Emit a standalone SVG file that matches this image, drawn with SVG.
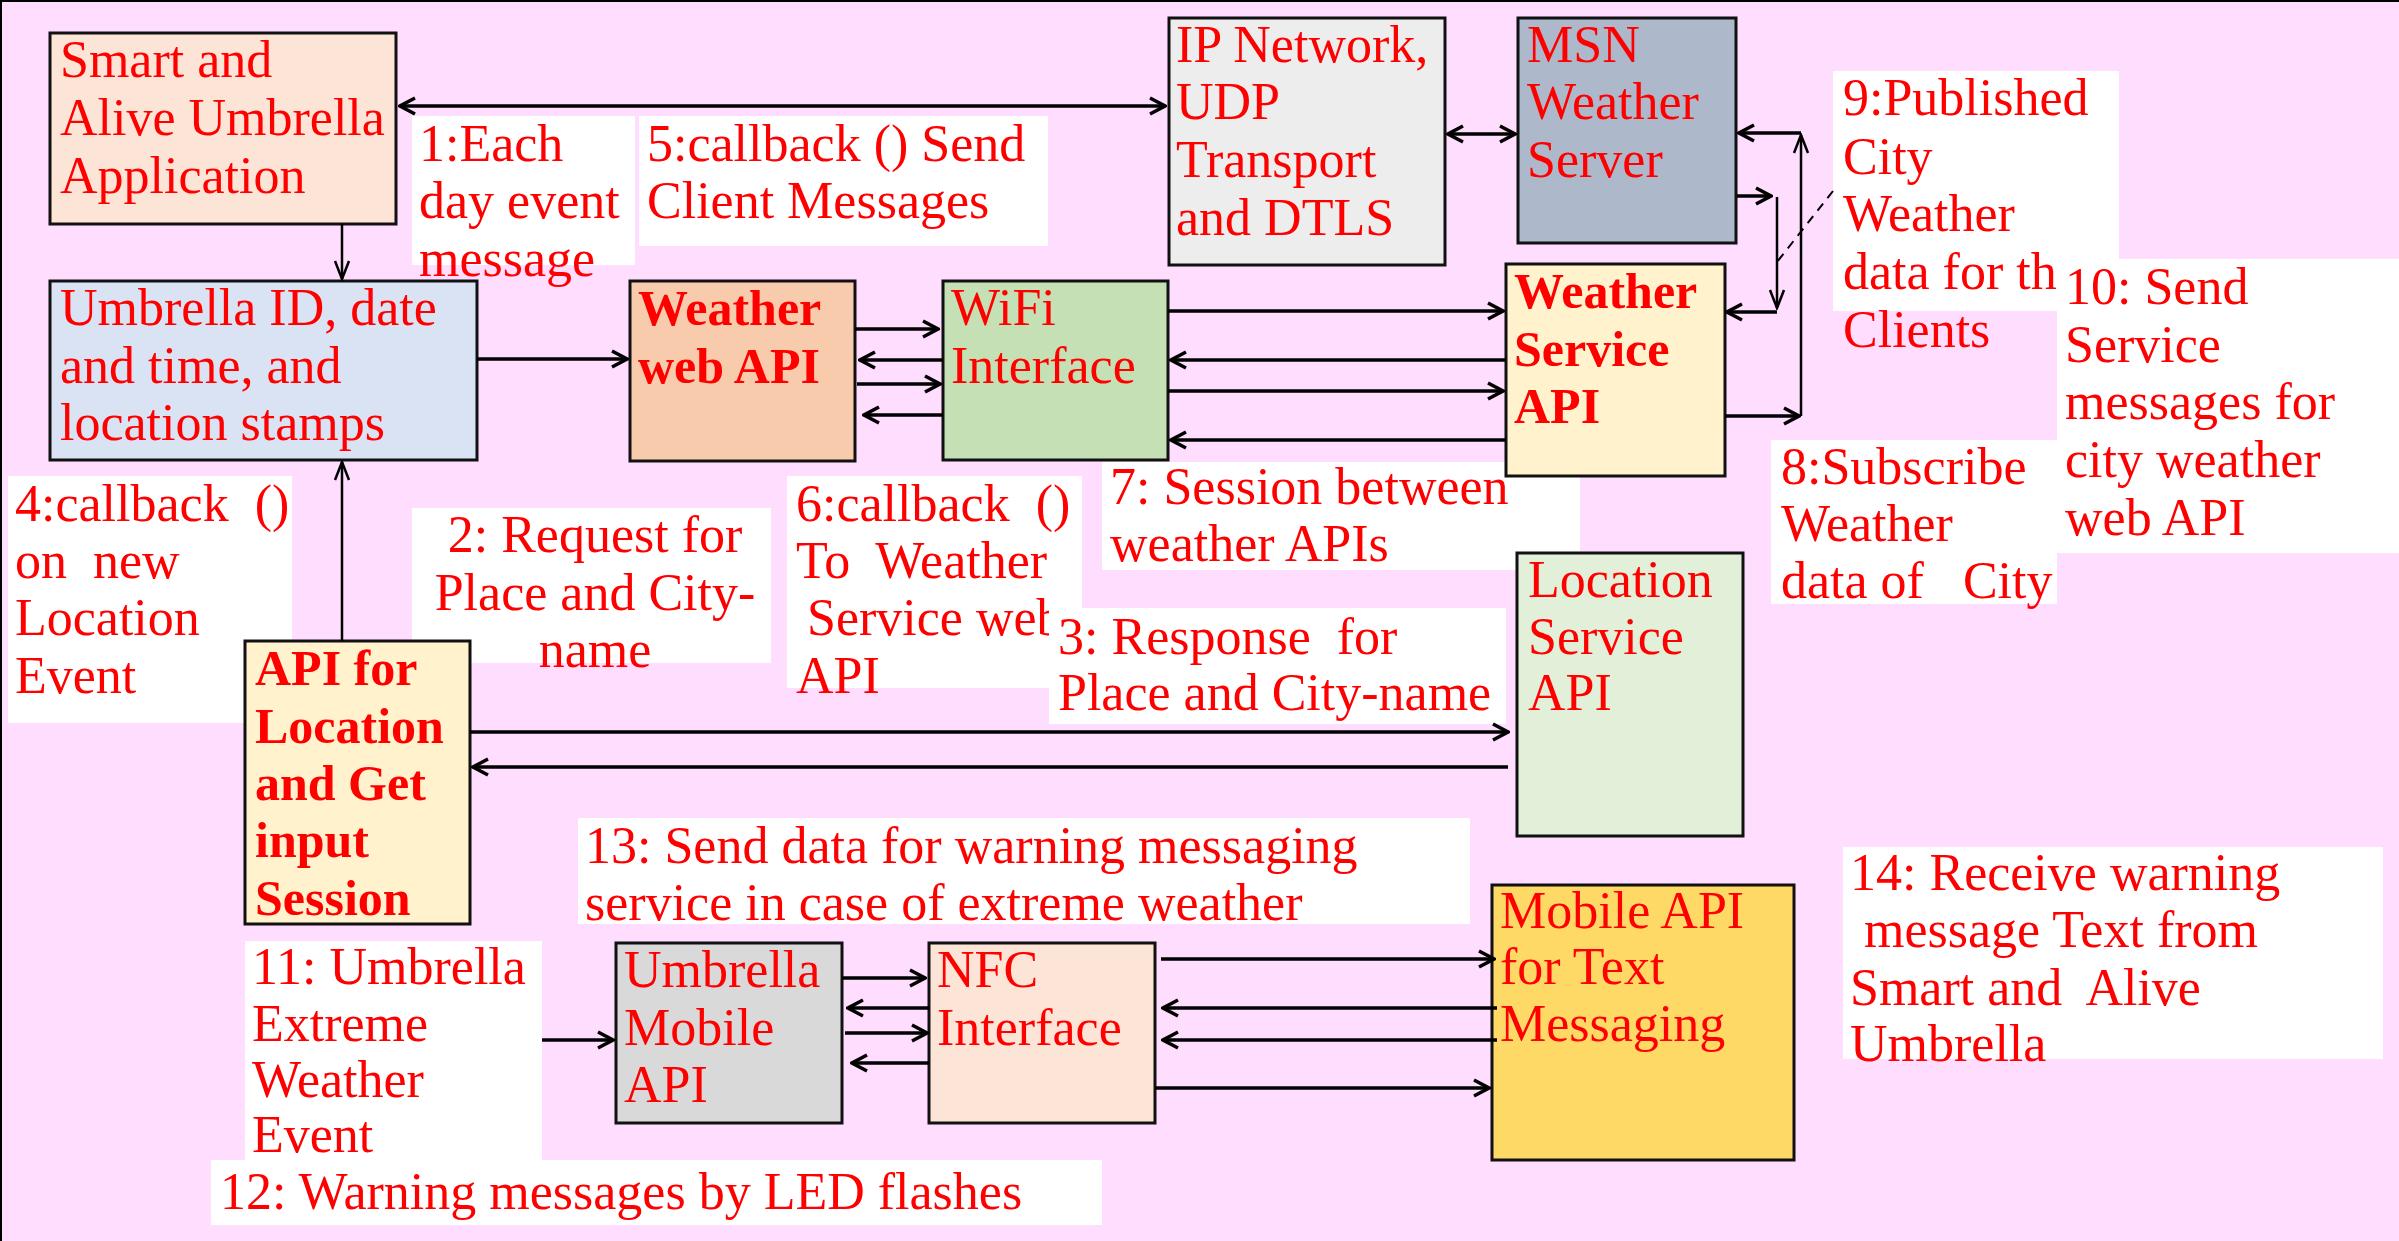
<svg xmlns="http://www.w3.org/2000/svg" width="2399" height="1241" viewBox="0 0 2399 1241">
<style>
text{font-family:"Liberation Serif","Times New Roman",serif;fill:#FF0000;font-size:52px}
.b{font-weight:bold;font-size:50px}
.box{stroke:#111;stroke-width:3}
.lbl{fill:#FFFFFF;stroke:none}
.c{stroke:#000;stroke-width:3.5;fill:none}
.t{stroke:#000;stroke-width:2.5;fill:none}
.d{stroke:#000;stroke-width:2;fill:none;stroke-dasharray:9 7}
</style>
<defs>
<marker id="ah" viewBox="-18 -10 20 20" markerWidth="20" markerHeight="20" refX="0" refY="0" orient="auto-start-reverse" markerUnits="userSpaceOnUse">
<path d="M-15,-8 L0,0 L-15,8" fill="none" stroke="#000" stroke-width="3.5" stroke-linejoin="miter"/>
</marker>
<marker id="tn" viewBox="-20 -10 22 20" markerWidth="22" markerHeight="20" refX="0" refY="0" orient="auto-start-reverse" markerUnits="userSpaceOnUse">
<path d="M-18,-7 L0,0 L-18,7" fill="none" stroke="#000" stroke-width="2.5"/>
</marker>
</defs>
<rect x="0" y="0" width="2399" height="1241" fill="#FFDDFF"/>
<line x1="0" y1="1" x2="2399" y2="1" stroke="#000" stroke-width="2"/>
<line x1="1" y1="0" x2="1" y2="1241" stroke="#000" stroke-width="2"/>

<g id="labels">
<g id="label-1">
<rect class="lbl" x="412" y="116" width="223" height="149"/>
<text x="419" y="161">1:Each</text>
<text x="419" y="218">day event</text>
<text x="419" y="276">message</text>
</g>
<g id="label-5">
<rect class="lbl" x="639" y="116" width="409" height="130"/>
<text x="647" y="161">5:callback () Send</text>
<text x="647" y="218">Client Messages</text>
</g>
<g id="label-9">
<rect class="lbl" x="1833" y="71" width="286" height="240"/>
<text x="1843" y="115">9:Published</text>
<text x="1843" y="174">City</text>
<text x="1843" y="231">Weather</text>
<text x="1843" y="289">data for th</text>
<text x="1843" y="347">Clients</text>
</g>
<g id="label-10">
<rect class="lbl" x="2057" y="259" width="342" height="294"/>
<text x="2065" y="304">10: Send</text>
<text x="2065" y="362">Service</text>
<text x="2065" y="419">messages for</text>
<text x="2065" y="477">city weather</text>
<text x="2065" y="535">web API</text>
</g>
<g id="label-8">
<rect class="lbl" x="1771" y="440" width="286" height="164"/>
<text x="1781" y="484">8:Subscribe</text>
<text x="1781" y="541">Weather</text>
<text x="1781" y="598" xml:space="preserve">data of   City</text>
</g>
<g id="label-7">
<rect class="lbl" x="1102" y="462" width="478" height="108"/>
<text x="1110" y="504">7: Session between</text>
<text x="1110" y="561">weather APIs</text>
</g>
<g id="label-4">
<rect class="lbl" x="8" y="476" width="284" height="247"/>
<text x="15" y="521" xml:space="preserve">4:callback  ()</text>
<text x="15" y="578" xml:space="preserve">on  new</text>
<text x="15" y="635">Location</text>
<text x="15" y="693">Event</text>
</g>
<g id="label-2">
<rect class="lbl" x="412" y="508" width="359" height="155"/>
<text x="595" y="552" text-anchor="middle">2: Request for</text>
<text x="595" y="610" text-anchor="middle">Place and City-</text>
<text x="595" y="667" text-anchor="middle">name</text>
</g>
<g id="label-6">
<rect class="lbl" x="787" y="476" width="295" height="212"/>
<text x="796" y="521" xml:space="preserve">6:callback  ()</text>
<text x="796" y="578" xml:space="preserve">To  Weather</text>
<text x="807" y="635">Service web</text>
<text x="796" y="693">API</text>
</g>
<g id="label-3">
<rect class="lbl" x="1049" y="608" width="457" height="116"/>
<text x="1058" y="654" xml:space="preserve">3: Response  for</text>
<text x="1058" y="710">Place and City-name</text>
</g>
<g id="label-13">
<rect class="lbl" x="578" y="818" width="892" height="106"/>
<text x="585" y="863">13: Send data for warning messaging</text>
<text x="585" y="920">service in case of extreme weather</text>
</g>
<g id="label-11">
<rect class="lbl" x="245" y="941" width="297" height="219"/>
<text x="252" y="984">11: Umbrella</text>
<text x="252" y="1041">Extreme</text>
<text x="252" y="1097">Weather</text>
<text x="252" y="1152">Event</text>
</g>
<g id="label-12">
<rect class="lbl" x="211" y="1160" width="891" height="65"/>
<text x="220" y="1209">12: Warning messages by LED flashes</text>
</g>
<g id="label-14">
<rect class="lbl" x="1843" y="847" width="540" height="212"/>
<text x="1850" y="890">14: Receive warning</text>
<text x="1864" y="947">message Text from</text>
<text x="1850" y="1005" xml:space="preserve">Smart and  Alive</text>
<text x="1850" y="1061">Umbrella</text>
</g>
</g>

<g id="smart-umbrella-app">
<rect class="box" x="50" y="33" width="346" height="191" fill="#FCE4D6"/>
<text x="60" y="77">Smart and</text>
<text x="60" y="135">Alive Umbrella</text>
<text x="60" y="193">Application</text>
</g>
<g id="umbrella-id">
<rect class="box" x="50" y="281" width="427" height="179" fill="#DAE3F3"/>
<text x="60" y="325">Umbrella ID, date</text>
<text x="60" y="383">and time, and</text>
<text x="60" y="440">location stamps</text>
</g>
<g id="weather-web-api">
<rect class="box" x="630" y="281" width="225" height="180" fill="#F8CBAD"/>
<text class="b" x="638" y="325">Weather</text>
<text class="b" x="638" y="383">web API</text>
</g>
<g id="wifi-interface">
<rect class="box" x="943" y="281" width="225" height="179" fill="#C5E0B4"/>
<text x="951" y="325">WiFi</text>
<text x="951" y="383">Interface</text>
</g>
<g id="ip-network">
<rect class="box" x="1169" y="18" width="276" height="247" fill="#EDEDED"/>
<text x="1176" y="62">IP Network,</text>
<text x="1176" y="119">UDP</text>
<text x="1176" y="177">Transport</text>
<text x="1176" y="235">and DTLS</text>
</g>
<g id="msn-weather-server">
<rect class="box" x="1518" y="18" width="218" height="225" fill="#ADB9CA"/>
<text x="1527" y="62">MSN</text>
<text x="1527" y="119">Weather</text>
<text x="1527" y="177">Server</text>
</g>
<g id="weather-service-api">
<rect class="box" x="1506" y="264" width="219" height="212" fill="#FFF2CC"/>
<text class="b" x="1514" y="308">Weather</text>
<text class="b" x="1514" y="366">Service</text>
<text class="b" x="1514" y="423">API</text>
</g>
<g id="api-location">
<rect class="box" x="245" y="641" width="225" height="283" fill="#FFF2CC"/>
<text class="b" x="255" y="685">API for</text>
<text class="b" x="255" y="743">Location</text>
<text class="b" x="255" y="800">and Get</text>
<text class="b" x="255" y="857">input</text>
<text class="b" x="255" y="915">Session</text>
</g>
<g id="location-service-api">
<rect class="box" x="1517" y="553" width="226" height="283" fill="#E2F0D9"/>
<text x="1528" y="597">Location</text>
<text x="1528" y="654">Service</text>
<text x="1528" y="710">API</text>
</g>
<g id="umbrella-mobile-api">
<rect class="box" x="616" y="943" width="226" height="180" fill="#D9D9D9"/>
<text x="624" y="987">Umbrella</text>
<text x="624" y="1045">Mobile</text>
<text x="624" y="1102">API</text>
</g>
<g id="nfc-interface">
<rect class="box" x="929" y="943" width="226" height="180" fill="#FCE4D6"/>
<text x="937" y="987">NFC</text>
<text x="937" y="1045">Interface</text>
</g>
<g id="mobile-text-api">
<rect class="box" x="1492" y="885" width="302" height="275" fill="#FFD966"/>
<text x="1500" y="928">Mobile API</text>
<text x="1500" y="984">for Text</text>
<text x="1500" y="1041">Messaging</text>
</g>

<g id="connectors">
<path class="c" d="M400,106 H1165" marker-start="url(#ah)" marker-end="url(#ah)"/>
<path class="c" d="M1448,134 H1515" marker-start="url(#ah)" marker-end="url(#ah)"/>
<path class="c" d="M477,359 H627" marker-end="url(#ah)"/>
<path class="c" d="M855,329 H938" marker-end="url(#ah)"/>
<path class="c" d="M943,360 H860" marker-end="url(#ah)"/>
<path class="c" d="M857,384 H940" marker-end="url(#ah)"/>
<path class="c" d="M943,415 H864" marker-end="url(#ah)"/>
<path class="c" d="M1168,311 H1503" marker-end="url(#ah)"/>
<path class="c" d="M1506,360 H1171" marker-end="url(#ah)"/>
<path class="c" d="M1168,391 H1503" marker-end="url(#ah)"/>
<path class="c" d="M1506,440 H1171" marker-end="url(#ah)"/>
<path class="c" d="M1725,416 H1799" marker-end="url(#ah)"/>
<path class="t" d="M1801,416 V135" marker-end="url(#tn)"/>
<path class="c" d="M1801,133 H1739" marker-end="url(#ah)"/>
<path class="c" d="M1737,196 H1771" marker-end="url(#ah)"/>
<path class="t" d="M1777,197 V308" marker-end="url(#tn)"/>
<path class="c" d="M1777,312 H1727" marker-end="url(#ah)"/>
<path class="d" d="M1833,191 L1777,262"/>
<path class="t" d="M342,224 V279" marker-end="url(#tn)"/>
<path class="t" d="M342,641 V462" marker-end="url(#tn)"/>
<path class="c" d="M470,732 H1508" marker-end="url(#ah)"/>
<path class="c" d="M1508,767 H473" marker-end="url(#ah)"/>
<path class="c" d="M542,1040 H613" marker-end="url(#ah)"/>
<path class="c" d="M842,978 H925" marker-end="url(#ah)"/>
<path class="c" d="M929,1008 H848" marker-end="url(#ah)"/>
<path class="c" d="M845,1033 H927" marker-end="url(#ah)"/>
<path class="c" d="M929,1063 H852" marker-end="url(#ah)"/>
<path class="c" d="M1161,959 H1494" marker-end="url(#ah)"/>
<path class="c" d="M1497,1008 H1163" marker-end="url(#ah)"/>
<path class="c" d="M1497,1040 H1163" marker-end="url(#ah)"/>
<path class="c" d="M1155,1088 H1489" marker-end="url(#ah)"/>
</g>
</svg>
